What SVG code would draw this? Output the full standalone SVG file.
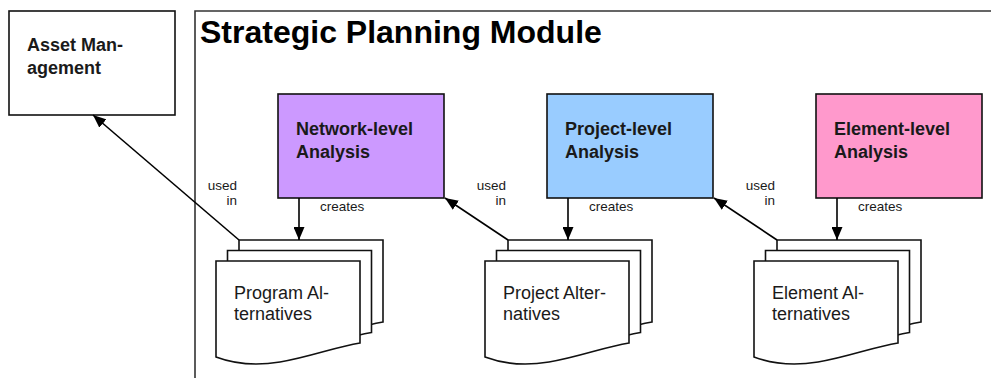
<svg xmlns="http://www.w3.org/2000/svg" width="991" height="378" viewBox="0 0 991 378">
  <defs>
    <marker id="arrow" viewBox="0 0 13 11" refX="13" refY="5.5" markerWidth="13" markerHeight="11" markerUnits="userSpaceOnUse" orient="auto">
      <path d="M0,0 L13,5.5 L0,11 Z" fill="#000"/>
    </marker>
    <!-- document sheet with wavy bottom, origin at its top-left corner -->
    <path id="sheet" d="M0,0 H144 V82 C119,86 94,96 64,101 C46,104 24,105 0,96 Z"/>
    <g id="stack">
      <use href="#sheet" x="23" y="-21" class="doc"/>
      <use href="#sheet" x="11.5" y="-10.5" class="doc"/>
      <use href="#sheet" x="0" y="0" class="doc"/>
    </g>
  </defs>
  <style>
    .frame { fill: none; stroke: #333; stroke-width: 1.6; }
    .box { stroke: #111; stroke-width: 1.6; }
    .doc { fill: #fff; stroke: #111; stroke-width: 1.6; }
    .conn { fill: none; stroke: #000; stroke-width: 1.6; marker-end: url(#arrow); }
    .title { font-family: "Liberation Sans", Arial, sans-serif; font-weight: bold; font-size: 32px; fill: #000; }
    .bold { font-family: "Liberation Sans", Arial, sans-serif; font-weight: bold; font-size: 18px; fill: #1a1a1a; }
    .reg { font-family: "Liberation Sans", Arial, sans-serif; font-size: 18px; fill: #1a1a1a; }
    .small { font-family: "Liberation Sans", Arial, sans-serif; font-size: 13.5px; fill: #1a1a1a; }
  </style>

  <rect width="991" height="378" fill="#fff"/>

  <!-- module frame -->
  <g id="strategic-planning-module">
    <path class="frame" d="M195,390 V11 H1000"/>
    <text class="title" x="200" y="43">Strategic Planning Module</text>
  </g>

  <g id="asset-management">
    <rect class="box" x="9" y="11" width="166" height="104" fill="#fff"/>
    <text class="bold" x="27" y="51">Asset Man-</text>
    <text class="bold" x="27" y="74">agement</text>
  </g>

  <g id="network-level-analysis">
    <rect class="box" x="278" y="94" width="166" height="104" fill="#cc99ff"/>
    <text class="bold" x="296" y="135">Network-level</text>
    <text class="bold" x="296" y="158">Analysis</text>
  </g>

  <g id="project-level-analysis">
    <rect class="box" x="547" y="94" width="166" height="104" fill="#99ccff"/>
    <text class="bold" x="565" y="135">Project-level</text>
    <text class="bold" x="565" y="158">Analysis</text>
  </g>

  <g id="element-level-analysis">
    <rect class="box" x="816" y="94" width="166" height="104" fill="#ff99cc"/>
    <text class="bold" x="834" y="135">Element-level</text>
    <text class="bold" x="834" y="158">Analysis</text>
  </g>

  <g id="program-alternatives">
    <use href="#stack" x="216" y="261"/>
    <text class="reg" x="234" y="299">Program Al-</text>
    <text class="reg" x="234" y="320">ternatives</text>
  </g>

  <g id="project-alternatives">
    <use href="#stack" x="485" y="261"/>
    <text class="reg" x="503" y="299">Project Alter-</text>
    <text class="reg" x="503" y="320">natives</text>
  </g>

  <g id="element-alternatives">
    <use href="#stack" x="754" y="261"/>
    <text class="reg" x="772" y="299">Element Al-</text>
    <text class="reg" x="772" y="320">ternatives</text>
  </g>

  <!-- connectors -->
  <g id="connectors">
    <path class="conn" d="M299,198 V240"/>
    <path class="conn" d="M568,198 V240"/>
    <path class="conn" d="M837,198 V240"/>
    <path class="conn" d="M239,240 L93,115"/>
    <path class="conn" d="M508,240 L445,198"/>
    <path class="conn" d="M777,240 L714,198"/>
  </g>

  <!-- connector labels -->
  <g id="labels" class="small">
    <text x="237" y="190" text-anchor="end">used</text>
    <text x="237" y="205" text-anchor="end">in</text>
    <text x="320" y="211">creates</text>
    <text x="506" y="190" text-anchor="end">used</text>
    <text x="506" y="205" text-anchor="end">in</text>
    <text x="589" y="211">creates</text>
    <text x="775" y="190" text-anchor="end">used</text>
    <text x="775" y="205" text-anchor="end">in</text>
    <text x="858" y="211">creates</text>
  </g>
</svg>
